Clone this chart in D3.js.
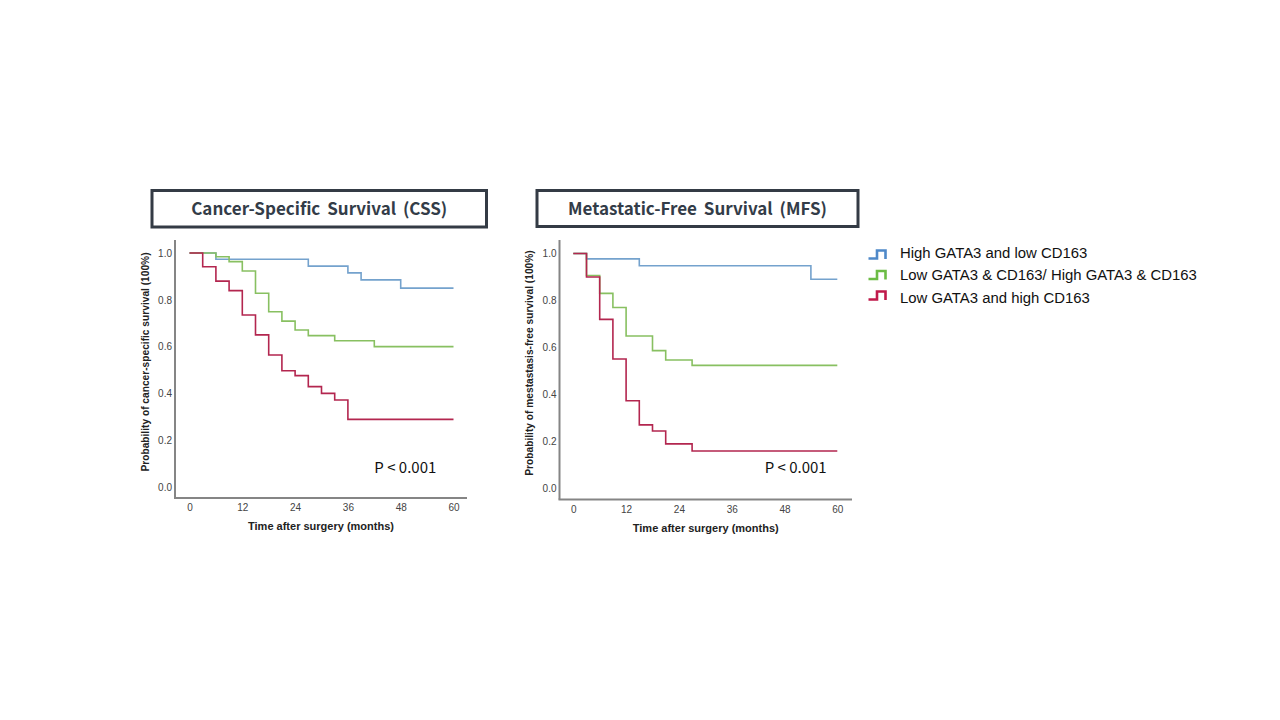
<!DOCTYPE html>
<html>
<head>
<meta charset="utf-8">
<script src="https://cdn.jsdelivr.net/npm/d3@7"></script>
<style>
  html, body { margin: 0; padding: 0; background: #fff; }
  svg { display: block; }
</style>
</head>
<body>
<svg id="chart" width="1280" height="720"></svg>
<script>
// ---------- DATA ----------
const seriesNames = ["High GATA3 and low CD163", "Low GATA3 & CD163/ High GATA3 & CD163", "Low GATA3 and high CD163"];
const xTicks = [0, 12, 24, 36, 48, 60];
const yTicks = [0, 0.2, 0.4, 0.6, 0.8, 1.0];

// Cancer-Specific Survival (CSS)
const cssBlueT  = [0, 6, 27, 36, 39, 48, 60];
const cssBlueS  = [1, 0.973, 0.944, 0.915, 0.885, 0.85, 0.85];
const cssGreenT = [0, 6, 9, 12, 15, 18, 21, 24, 27, 33, 42, 60];
const cssGreenS = [1, 0.984, 0.963, 0.923, 0.828, 0.749, 0.709, 0.671, 0.647, 0.625, 0.6, 0.6];
const cssRedT   = [0, 3, 6, 9, 12, 15, 18, 21, 24, 27, 30, 33, 36, 60];
const cssRedS   = [1, 0.941, 0.88, 0.839, 0.735, 0.65, 0.564, 0.497, 0.476, 0.429, 0.4, 0.372, 0.289, 0.289];

// Metastatic-Free Survival (MFS)
const mfsBlueT  = [0, 3, 15, 54, 60];
const mfsBlueS  = [1, 0.977, 0.948, 0.89, 0.89];
const mfsGreenT = [0, 3, 6, 9, 12, 18, 21, 27, 60];
const mfsGreenS = [1, 0.906, 0.83, 0.77, 0.648, 0.586, 0.546, 0.523, 0.523];
const mfsRedT   = [0, 3, 6, 9, 12, 15, 18, 21, 27, 60];
const mfsRedS   = [1, 0.9, 0.719, 0.55, 0.372, 0.269, 0.243, 0.188, 0.158, 0.158];

const pText = "P < 0.001";

// ---------- STYLE ----------
const lineColors = ["#74a2cd", "#88c061", "#b3264f"];
const legendColors = ["#4f89c9", "#6cbc45", "#c01a4b"];

const svg = d3.select("#chart");
svg.append("rect").attr("width", 1280).attr("height", 720).attr("fill", "#fff");

function zip(T, S) { return T.map((t, i) => ({ t: t, s: S[i] })); }

function panel(cfg) {
  const x = d3.scaleLinear().domain([0, 60]).range([cfg.x0, cfg.x60]);
  const y = d3.scaleLinear().domain([0, 1]).range([cfg.y0, cfg.y1]);
  const g = svg.append("g");

  // title box
  g.append("rect")
    .attr("x", cfg.box[0]).attr("y", cfg.box[1])
    .attr("width", cfg.box[2]).attr("height", cfg.box[3])
    .attr("fill", "#fff").attr("stroke", "#343b45").attr("stroke-width", 3);
  g.append("text")
    .attr("x", cfg.box[0] + cfg.box[2] / 2).attr("y", cfg.box[1] + cfg.box[3] / 2 + 6)
    .attr("text-anchor", "middle")
    .attr("font-family", "'Noto Sans CJK KR', 'Noto Sans', sans-serif")
    .attr("font-weight", 700).attr("font-size", 17)
    .attr("word-spacing", 3)
    .attr("fill", "#333c48")
    .text(cfg.title);

  // axes
  const xAxis = d3.axisBottom(x).tickValues(xTicks).tickSize(0).tickPadding(6);
  const gx = g.append("g").attr("transform", `translate(0,${cfg.axisY})`).call(xAxis);
  gx.select(".domain").remove();
  gx.selectAll("text").attr("font-family", "Liberation Sans, Arial, sans-serif")
    .attr("font-size", 10).attr("fill", "#444");
  const yAxis = d3.axisLeft(y).tickValues(yTicks).tickFormat(d3.format(".1f")).tickSize(0).tickPadding(3);
  const gy = g.append("g").attr("transform", `translate(${cfg.axisX},0)`).call(yAxis);
  gy.select(".domain").remove();
  gy.selectAll("text").attr("font-family", "Liberation Sans, Arial, sans-serif")
    .attr("font-size", 10).attr("fill", "#444");

  g.append("line").attr("x1", cfg.axisX).attr("x2", cfg.axisX)
    .attr("y1", cfg.axisTop).attr("y2", cfg.axisY)
    .attr("stroke", "#858585").attr("stroke-width", 2);
  g.append("line").attr("x1", cfg.axisX - 1).attr("x2", cfg.axisRight)
    .attr("y1", cfg.axisY).attr("y2", cfg.axisY)
    .attr("stroke", "#858585").attr("stroke-width", 2);

  // curves
  const line = d3.line().x(d => x(d.t)).y(d => y(d.s)).curve(d3.curveStepAfter);
  cfg.series.forEach((s, i) => {
    g.append("path").datum(s).attr("d", line)
      .attr("fill", "none").attr("stroke", lineColors[i]).attr("stroke-width", 1.6);
  });

  // axis titles
  g.append("text")
    .attr("x", (cfg.axisX + cfg.axisRight) / 2).attr("y", cfg.axisY + 32)
    .attr("text-anchor", "middle")
    .attr("font-family", "Liberation Sans, Arial, sans-serif")
    .attr("font-weight", 700).attr("font-size", 11).attr("fill", "#222")
    .text("Time after surgery (months)");
  g.append("text")
    .attr("transform", `translate(${cfg.yTitleX},${cfg.yTitleY}) rotate(-90)`)
    .attr("text-anchor", "middle")
    .attr("font-family", "Liberation Sans, Arial, sans-serif")
    .attr("font-weight", 700).attr("font-size", 10.2).attr("fill", "#222")
    .text(cfg.yTitle);

  // p-value
  g.append("text")
    .attr("x", x(cfg.pT)).attr("y", y(cfg.pS))
    .attr("font-family", "'Noto Sans CJK KR', 'Noto Sans', sans-serif")
    .attr("font-size", 15).attr("fill", "#111")
    .text(pText);
}

panel({
  title: "Cancer-Specific Survival (CSS)",
  box: [152, 190.5, 334.5, 36.5],
  x0: 189.5, x60: 453.5, y0: 487, y1: 253,
  axisX: 175, axisY: 498, axisTop: 240, axisRight: 467,
  yTitle: "Probability of cancer-specific survival (100%)",
  yTitleX: 148.5, yTitleY: 362,
  pT: 42.0, pS: 0.06,
  series: [zip(cssBlueT, cssBlueS), zip(cssGreenT, cssGreenS), zip(cssRedT, cssRedS)]
});

panel({
  title: "Metastatic-Free Survival (MFS)",
  box: [537, 190.5, 321, 36],
  x0: 573.3, x60: 837.3, y0: 488, y1: 253.5,
  axisX: 559.5, axisY: 499.5, axisTop: 240, axisRight: 852,
  yTitle: "Probability of mestastasis-free survival (100%)",
  yTitleX: 532.5, yTitleY: 363,
  pT: 43.5, pS: 0.062,
  series: [zip(mfsBlueT, mfsBlueS), zip(mfsGreenT, mfsGreenS), zip(mfsRedT, mfsRedS)]
});

// legend
const legendY = [254.5, 275, 295.5];
const legendTextY = [253, 275, 297.5];
const lg = svg.append("g");
seriesNames.forEach((name, i) => {
  const cy = legendY[i];
  lg.append("path")
    .attr("d", `M868.5,${cy + 4} H877 V${cy - 4} H885.5 V${cy + 4.5}`)
    .attr("fill", "none").attr("stroke", legendColors[i]).attr("stroke-width", 2.6);
  lg.append("text")
    .attr("x", 900).attr("y", legendTextY[i] + 5.3)
    .attr("font-family", "Liberation Sans, Arial, sans-serif")
    .attr("font-size", 14.9).attr("fill", "#111")
    .text(name);
});
</script>
</body>
</html>
